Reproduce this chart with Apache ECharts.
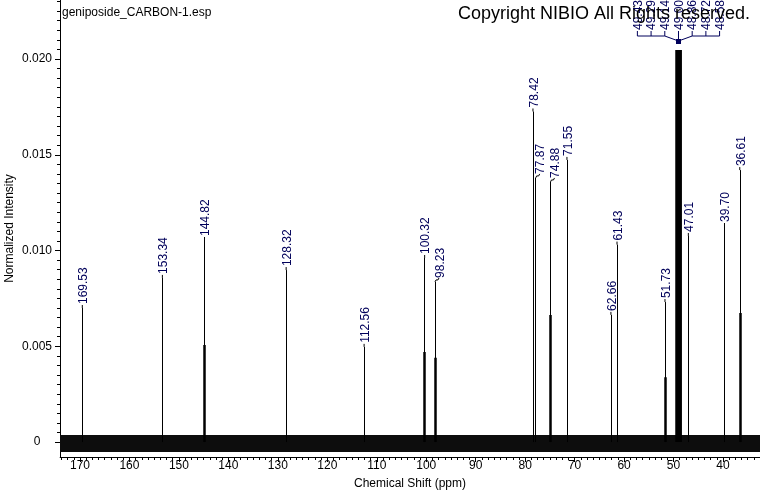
<!DOCTYPE html>
<html>
<head>
<meta charset="utf-8">
<script src="https://cdn.jsdelivr.net/npm/echarts@6/dist/echarts.min.js"></script>
<style>
html,body{margin:0;padding:0;background:#fff;}
#c{width:760px;height:492px;}
</style>
</head>
<body>
<div id="c"></div>
<script>
// ---------------- data ----------------
const fileTitle = 'geniposide_CARBON-1.esp';
const copyrightText = 'Copyright NIBIO All Rights reserved.';
const xAxisName = 'Chemical Shift (ppm)';
const yAxisName = 'Normalized Intensity';

// labelled peaks (ppm) and the height where each label leader ends
const peakShifts = [169.53, 153.34, 144.82, 128.32, 112.56, 100.32, 98.23, 78.42, 77.87, 74.88, 71.55, 62.66, 61.43, 51.73, 47.01, 39.70, 36.61];
const leaderTops = [0.00700, 0.00857, 0.01055, 0.00898, 0.00497, 0.00961, 0.00836, 0.01726, 0.01379, 0.01358, 0.01473, 0.00664, 0.01031, 0.00731, 0.01076, 0.01128, 0.01420];

// peaks with a visibly broader base (ppm, intensity)
const broadShifts = [144.82, 100.32, 98.23, 74.88, 51.73, 36.61];
const broadHeights = [0.00507, 0.00470, 0.00440, 0.00664, 0.00339, 0.00674];

// solvent multiplet (off scale)
const solventShifts = [49.43, 49.29, 49.14, 49.00, 48.86, 48.72, 48.58];
const solventHeight = 0.02047;

// baseline noise band (min, max intensity)
const noiseBand = [-0.00052, 0.00037];

// axis ranges and tick steps
const xRange = [32.52, 174.04];
const yRange = [-0.00078, 0.02308];
const xTickRange = [30, 180];
const xTickStep = 10;
const yTickRange = [0, 0.025];
const yTickStep = 0.005;

// ---------------- layout ----------------
const W = 760, H = 492;
const plot = {left: 60, right: 0, top: 0, bottom: 35};
const plotW = W - plot.left - plot.right;
const plotH = H - plot.top - plot.bottom;
const pxPerPpm = plotW / (xRange[1] - xRange[0]);
const pxPerY = plotH / (yRange[1] - yRange[0]);

const yTickGrid = {
  left: plot.left, right: plot.right,
  top: plot.top - (yTickRange[1] - yRange[1]) * pxPerY,
  bottom: plot.bottom + (yTickRange[0] - yRange[0]) * pxPerY
};
const xTickGrid = {
  left: plot.left - (xTickRange[1] - xRange[1]) * pxPerPpm,
  right: plot.right - (xRange[0] - xTickRange[0]) * pxPerPpm,
  top: plot.top, bottom: plot.bottom
};

const FONT = '"Liberation Sans", Arial, sans-serif';
const NAVY = '#00005a';
const kinked = new Set([98.23, 77.87, 74.88]);

const chart = echarts.init(document.getElementById('c'), null, {renderer: 'canvas'});

const axisBlack = {color: '#000', width: 1};
const gridBase = {containLabel: false, outerBoundsMode: 'none'};

const option = {
  animation: false,
  backgroundColor: '#fff',
  grid: [
    Object.assign({left: plot.left, right: plot.right, top: plot.top, bottom: plot.bottom}, gridBase),
    Object.assign({left: yTickGrid.left, right: yTickGrid.right, top: yTickGrid.top, bottom: yTickGrid.bottom}, gridBase),
    Object.assign({left: xTickGrid.left, right: xTickGrid.right, top: xTickGrid.top, bottom: xTickGrid.bottom}, gridBase)
  ],
  xAxis: [
    {
      gridIndex: 0, type: 'value', inverse: true, min: xRange[0], max: xRange[1],
      axisLine: {show: true, onZero: false, lineStyle: axisBlack},
      axisTick: {show: false}, axisLabel: {show: false}, splitLine: {show: false},
      name: xAxisName, nameLocation: 'middle', nameGap: 21,
      nameTextStyle: {fontFamily: FONT, fontSize: 12, color: '#000'}
    },
    {gridIndex: 1, type: 'value', show: false, min: 0, max: 1},
    {
      gridIndex: 2, type: 'value', inverse: true, min: xTickRange[0], max: xTickRange[1], interval: xTickStep,
      axisLine: {show: false, onZero: false},
      axisTick: {show: true, length: 5, lineStyle: axisBlack},
      minorTick: {show: true, splitNumber: 8, length: 3, lineStyle: axisBlack},
      axisLabel: {
        show: true, margin: 3, fontFamily: FONT, fontSize: 12, color: '#000',
        formatter: v => (v >= xRange[0] && v <= xRange[1]) ? String(v) : ''
      },
      splitLine: {show: false}, minorSplitLine: {show: false}
    }
  ],
  yAxis: [
    {
      gridIndex: 0, type: 'value', min: yRange[0], max: yRange[1],
      axisLine: {show: true, onZero: false, lineStyle: axisBlack},
      axisTick: {show: false}, axisLabel: {show: false}, splitLine: {show: false},
      name: yAxisName, nameLocation: 'middle', nameGap: 44, nameRotate: 90,
      nameTextStyle: {fontFamily: FONT, fontSize: 12, color: '#000'}
    },
    {
      gridIndex: 1, type: 'value', min: yTickRange[0], max: yTickRange[1], interval: yTickStep,
      axisLine: {show: false, onZero: false},
      axisTick: {show: true, length: 5, lineStyle: axisBlack},
      minorTick: {show: true, splitNumber: 10, length: 3, lineStyle: axisBlack},
      axisLabel: {
        show: true, align: 'center', margin: 23, fontFamily: FONT, fontSize: 12, color: '#000',
        formatter: v => v === 0 ? '0' : v.toFixed(3)
      },
      splitLine: {show: false}, minorSplitLine: {show: false}
    },
    {gridIndex: 2, type: 'value', show: false, min: 0, max: 1}
  ],
  series: [
    {
      // baseline noise band
      type: 'custom', xAxisIndex: 0, yAxisIndex: 0, silent: true, z: 2,
      data: [[xRange[1], noiseBand[1], xRange[0], noiseBand[0]]],
      renderItem: (params, api) => {
        const p1 = api.coord([api.value(0), api.value(1)]);
        const p2 = api.coord([api.value(2), api.value(3)]);
        return {
          type: 'rect',
          shape: {x: Math.min(p1[0], p2[0]), y: p1[1], width: Math.abs(p2[0] - p1[0]), height: p2[1] - p1[1]},
          style: {fill: '#0d0d0d'}
        };
      }
    },
    {
      // peak lines up to label leaders
      type: 'lines', coordinateSystem: 'cartesian2d', xAxisIndex: 0, yAxisIndex: 0, silent: true, z: 3,
      lineStyle: {color: '#000', width: 1, opacity: 1},
      data: peakShifts.map((s, i) => ({coords: [[s, 0], [s, leaderTops[i]]]}))
    },
    {
      // broader peak bases
      type: 'lines', coordinateSystem: 'cartesian2d', xAxisIndex: 0, yAxisIndex: 0, silent: true, z: 3,
      lineStyle: {color: '#000', width: 2.5, opacity: 1},
      data: broadShifts.map((s, i) => ({coords: [[s, 0], [s, broadHeights[i]]]}))
    },
    {
      // solvent multiplet
      type: 'lines', coordinateSystem: 'cartesian2d', xAxisIndex: 0, yAxisIndex: 0, silent: true, z: 3,
      lineStyle: {color: '#000', width: 2.5, opacity: 1},
      data: solventShifts.map(s => ({coords: [[s, 0], [s, solventHeight]]}))
    },
    {
      // peak labels (rotated), with small kinked leaders where labels are shifted
      type: 'custom', xAxisIndex: 0, yAxisIndex: 0, silent: true, z: 4,
      data: peakShifts.map((s, i) => [s, leaderTops[i]]),
      renderItem: (params, api) => {
        const s = api.value(0);
        const p = api.coord([s, api.value(1)]);
        const children = [];
        let tx, ty;
        if (kinked.has(s)) {
          children.push({
            type: 'polyline',
            shape: {points: [[p[0], p[1]], [p[0] + 1, p[1] - 2], [p[0] + 3, p[1] - 2], [p[0] + 4, p[1] - 4]]},
            style: {stroke: '#000', lineWidth: 1, fill: null}
          });
          tx = p[0] + 5.5; ty = p[1] - 4;
        } else {
          children.push({
            type: 'line', shape: {x1: p[0], y1: p[1], x2: p[0], y2: p[1] - 3},
            style: {stroke: '#000', lineWidth: 1}
          });
          tx = p[0] + 1.5; ty = p[1] - 4;
        }
        children.push({
          type: 'text', x: tx, y: ty, rotation: Math.PI / 2,
          style: {text: s.toFixed(2), font: '12px ' + FONT, fill: NAVY, align: 'left', verticalAlign: 'middle'}
        });
        return {type: 'group', children: children};
      }
    },
    {
      // solvent multiplet labels with bracket
      type: 'custom', xAxisIndex: 0, yAxisIndex: 0, silent: true, z: 5,
      data: [[solventShifts[3], yRange[1]]],
      renderItem: (params, api) => {
        const c = api.coord([api.value(0), api.value(1)]);
        const cx = c[0], top = c[1];
        const sp = 13.7;
        const children = [];
        solventShifts.forEach((s, i) => {
          const x = cx + (i - 3) * sp;
          children.push({
            type: 'text', x: x + 1, y: top + 30, rotation: Math.PI / 2,
            style: {text: s.toFixed(2), font: '12px ' + FONT, fill: NAVY, align: 'left', verticalAlign: 'middle'}
          });
          children.push({
            type: 'line', shape: {x1: x, y1: top + 31, x2: x, y2: top + (i === 3 ? 40 : 36)},
            style: {stroke: NAVY, lineWidth: 1}
          });
        });
        children.push({
          type: 'polyline',
          shape: {points: [[cx - 3 * sp, top + 36], [cx - sp, top + 36], [cx, top + 41], [cx + sp, top + 36], [cx + 3 * sp, top + 36]]},
          style: {stroke: NAVY, lineWidth: 1, fill: null}
        });
        children.push({
          type: 'rect', shape: {x: cx - 2.5, y: top + 39, width: 5, height: 5},
          style: {fill: NAVY}
        });
        return {type: 'group', children: children};
      }
    }
  ],
  graphic: [
    {
      type: 'rect', z: 100, silent: true,
      shape: {x: 0, y: H - plot.bottom - 1, width: plot.left - 0.6, height: 22},
      style: {fill: '#fff'}
    },
    {
      type: 'text', z: 100, silent: true, x: plot.left + 2, y: 13,
      style: {text: fileTitle, font: '12px ' + FONT, fill: '#000', align: 'left', verticalAlign: 'middle'}
    },
    {
      type: 'text', z: 101, silent: true, x: 750, y: 14,
      style: {text: copyrightText, font: '18px ' + FONT, fill: '#000', align: 'right', verticalAlign: 'middle'}
    }
  ]
};

chart.setOption(option);
</script>
</body>
</html>
